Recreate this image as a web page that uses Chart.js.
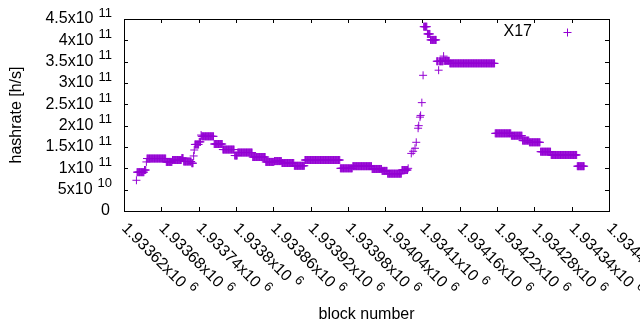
<!DOCTYPE html>
<html>
<head>
<meta charset="utf-8">
<script src="https://cdn.jsdelivr.net/npm/chart.js@4/dist/chart.umd.min.js"></script>
<style>
  html, body { margin: 0; padding: 0; background: #fff; }
  canvas { display: block; }
</style>
</head>
<body>
<canvas id="hashChart" width="640" height="330"></canvas>
<script>
// Hashrate estimate per block, kept as runs of blocks sharing one value
const seriesLabel = 'X17';
const runStart = [1933640, 1933641, 1933653, 1933656, 1933657, 1933688, 1933698, 1933713, 1933716, 1933729,
    1933732, 1933733, 1933734, 1933741, 1933744, 1933745, 1933765, 1933779, 1933798, 1933803,
    1933827, 1933848, 1933862, 1933874, 1933894, 1933911, 1933968, 1933988, 1934019, 1934035,
    1934044, 1934067, 1934077, 1934082, 1934085, 1934088, 1934090, 1934093, 1934094, 1934096,
    1934097, 1934099, 1934101, 1934102, 1934108, 1934113, 1934123, 1934126, 1934127, 1934134,
    1934135, 1934144, 1934217, 1934243, 1934261, 1934272, 1934290, 1934307, 1934349];
const runEnd = [1933640, 1933652, 1933655, 1933656, 1933687, 1933697, 1933712, 1933715, 1933728, 1933731,
    1933732, 1933733, 1933740, 1933743, 1933744, 1933764, 1933778, 1933797, 1933802, 1933826,
    1933847, 1933861, 1933873, 1933893, 1933910, 1933967, 1933987, 1934018, 1934034, 1934043,
    1934066, 1934076, 1934077, 1934082, 1934085, 1934088, 1934090, 1934093, 1934094, 1934096,
    1934097, 1934099, 1934101, 1934107, 1934112, 1934122, 1934125, 1934126, 1934133, 1934134,
    1934143, 1934216, 1934242, 1934260, 1934271, 1934289, 1934306, 1934348, 1934360];
const runHash = [72e9, 91e9, 96e9, 115e9, 123e9, 115e9, 119.5e9, 124e9, 116e9, 112e9,
    129e9, 143e9, 156e9, 162e9, 178e9, 175e9, 157e9, 144e9, 130e9, 137e9,
    126.5e9, 115e9, 117e9, 112.5e9, 106e9, 119.5e9, 100e9, 105e9, 98.5e9, 94e9,
    87.5e9, 96e9, 100e9, 135e9, 140e9, 147e9, 161e9, 194e9, 200e9, 220e9,
    224e9, 254e9, 318e9, 432e9, 415e9, 401e9, 351e9, 330e9, 351e9, 363e9,
    352e9, 346e9, 182e9, 176.5e9, 165e9, 161e9, 139e9, 131.3e9, 105e9];

// Axis ranges / ticks
const xMin = 1933620, xMax = 1934400, xStep = 60;
const yMin = 0, yMax = 4.5e11, yStep = 5e10;

const points = [];
runStart.forEach(function (s, i) {
    for (let b = s; b <= runEnd[i]; b++) points.push({ x: b, y: runHash[i] });
});

const FONT = '"Liberation Sans", Arial, sans-serif';
const COLOR = '#9400d3';

function sciParts(v) {
    if (v === 0) return ['0', ''];
    const e = Math.floor(Math.log10(Math.abs(v)) + 1e-9);
    const m = parseFloat((v / Math.pow(10, e)).toFixed(6));
    return [m + 'x10', String(e)];
}

// gnuplot-like frame: box border, inward ticks on all sides, sci-notation labels
const gnuplotFrame = {
    id: 'gnuplotFrame',
    afterDraw: function (chart) {
        const ctx = chart.ctx;
        const a = chart.chartArea;
        const xs = chart.scales.x, ys = chart.scales.y;
        const tl = 4;
        ctx.save();
        ctx.strokeStyle = '#000';
        ctx.lineWidth = 1;
        ctx.beginPath();
        xs.ticks.forEach(function (t) {
            const px = Math.round(xs.getPixelForValue(t.value)) + 0.5;
            ctx.moveTo(px, a.bottom); ctx.lineTo(px, a.bottom - tl);
            ctx.moveTo(px, a.top); ctx.lineTo(px, a.top + tl);
        });
        ys.ticks.forEach(function (t) {
            const py = Math.round(ys.getPixelForValue(t.value)) + 0.5;
            ctx.moveTo(a.left, py); ctx.lineTo(a.left + tl, py);
            ctx.moveTo(a.right, py); ctx.lineTo(a.right - tl, py);
        });
        ctx.stroke();
        ctx.strokeRect(Math.round(a.left) + 0.5, Math.round(a.top) + 0.5,
            Math.round(a.right - a.left), Math.round(a.bottom - a.top));

        ctx.fillStyle = '#000';
        // y labels
        const yRight = a.left - 12;
        ys.ticks.forEach(function (t) {
            const py = ys.getPixelForValue(t.value);
            const p = sciParts(t.value);
            ctx.textBaseline = 'middle';
            ctx.textAlign = 'right';
            if (!p[1]) {
                ctx.font = '16px ' + FONT;
                ctx.fillText(p[0], yRight - 2, py);
                return;
            }
            ctx.font = '13px ' + FONT;
            const ew = ctx.measureText(p[1]).width;
            ctx.fillText(p[1], yRight, py - 6);
            ctx.font = '16px ' + FONT;
            ctx.fillText(p[0], yRight - ew - 5, py);
        });
        // x labels, rotated -45
        xs.ticks.forEach(function (t) {
            const px = xs.getPixelForValue(t.value);
            const p = sciParts(t.value);
            ctx.save();
            ctx.translate(px, a.bottom + 15);
            ctx.rotate(Math.PI / 4);
            ctx.textAlign = 'left';
            ctx.textBaseline = 'middle';
            ctx.font = '16px ' + FONT;
            ctx.fillText(p[0], 0, 0);
            const w = ctx.measureText(p[0]).width;
            ctx.font = '13px ' + FONT;
            ctx.fillText(p[1], w + 5, -6);
            ctx.restore();
        });
        // axis titles
        ctx.font = '16px ' + FONT;
        ctx.textAlign = 'center';
        ctx.textBaseline = 'middle';
        ctx.fillText('block number', (a.left + a.right) / 2, 315);
        ctx.save();
        ctx.translate(17, (a.top + a.bottom) / 2);
        ctx.rotate(-Math.PI / 2);
        ctx.fillText('hashrate [h/s]', 0, 0);
        ctx.restore();
        // key: label then sample mark
        ctx.textAlign = 'right';
        ctx.fillText(seriesLabel, a.right - 77, a.top + 13);
        const kx = a.right - 41.5, ky = a.top + 13.5;
        ctx.strokeStyle = COLOR;
        ctx.beginPath();
        ctx.moveTo(kx - 4, ky); ctx.lineTo(kx + 4, ky);
        ctx.moveTo(kx, ky - 4); ctx.lineTo(kx, ky + 4);
        ctx.stroke();
        ctx.restore();
    }
};

new Chart(document.getElementById('hashChart'), {
    type: 'scatter',
    data: {
        datasets: [{
            label: seriesLabel,
            data: points,
            pointStyle: 'cross',
            pointRadius: 4,
            pointHoverRadius: 4,
            borderWidth: 1,
            borderColor: COLOR,
            backgroundColor: COLOR
        }]
    },
    options: {
        responsive: false,
        animation: false,
        events: [],
        layout: { padding: { left: 124, right: 31, top: 19, bottom: 119 } },
        plugins: { legend: { display: false }, tooltip: { enabled: false } },
        scales: {
            x: {
                type: 'linear', min: xMin, max: xMax,
                ticks: { display: false, stepSize: xStep },
                grid: { display: false, drawTicks: false },
                border: { display: false }
            },
            y: {
                type: 'linear', min: yMin, max: yMax,
                ticks: { display: false, stepSize: yStep },
                grid: { display: false, drawTicks: false },
                border: { display: false }
            }
        }
    },
    plugins: [gnuplotFrame]
});
</script>
</body>
</html>
